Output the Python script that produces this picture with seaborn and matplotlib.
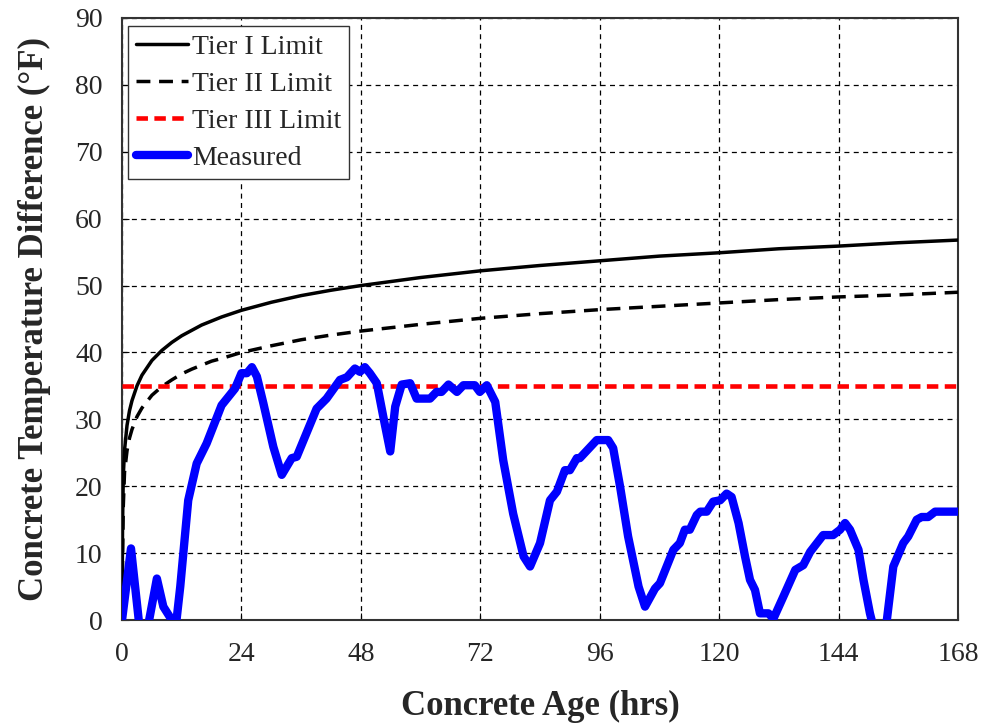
# Data Handling & Computation
import numpy as np
import pandas as pd

# Visualization Libraries
import matplotlib
matplotlib.use("Agg")
import matplotlib.pyplot as plt
import seaborn as sns

# ==============================
# Data
# ==============================

limit_hours = [0, 0.1, 0.25, 0.5, 1, 1.5, 2, 3, 4, 6, 8, 10, 12, 14, 16, 18, 20, 24, 30, 36,
               42, 48, 60, 72, 84, 96, 108, 120, 132, 144, 156, 168]
tier1_limit = [0, 14, 21.5, 25.4, 29.1, 31.3, 32.8, 35.0, 36.6, 38.8, 40.3, 41.5, 42.5, 43.3,
               44.1, 44.7, 45.3, 46.3, 47.5, 48.5, 49.3, 50.0, 51.2, 52.2, 53.0, 53.7, 54.4,
               54.9, 55.5, 55.9, 56.4, 56.8]
tier2_limit = [0, 9, 17, 22.1, 25.3, 27.2, 28.5, 30.4, 31.7, 33.6, 34.9, 35.9, 36.8, 37.5,
               38.1, 38.7, 39.1, 40.0, 41.0, 41.9, 42.6, 43.2, 44.2, 45.1, 45.8, 46.4, 46.9,
               47.4, 47.9, 48.3, 48.6, 49.0]

tier3_hours = [0, 168]
tier3_limit = [35, 35]

measured_hours = [
    0, 1.8, 3.5, 4.3, 5.2, 7.0, 8.3, 10.0, 10.8, 11.7, 13.3, 15.0, 17.0, 20.0, 22.7,
    24.0, 25.1, 26.1, 27.1, 28.4, 30.4, 32.1, 34.1, 35.1, 39.1, 41.1, 43.8, 45.2,
    46.8, 47.8, 48.8, 49.8, 51.2, 52.5, 53.9, 54.9, 56.2, 57.9, 59.2, 61.9, 63.2,
    64.2, 65.6, 67.3, 68.6, 70.9, 71.9, 73.3, 75.0, 76.6, 78.6, 80.7, 82.0, 84.0,
    86.0, 87.4, 89.0, 90.0, 91.4, 92.0, 95.4, 97.7, 98.7, 100.1, 101.7, 103.8,
    105.1, 107.1, 108.1, 110.8, 112.1, 113.1, 114.1, 115.5, 116.2, 117.5, 118.8,
    120.2, 121.5, 122.5, 123.9, 125.2, 126.2, 127.2, 128.2, 129.9, 130.9, 132.9,
    135.3, 136.9, 138.3, 140.9, 142.9, 144.3, 145.3, 146.3, 148.0, 149.0, 150.3,
    152.0, 153.7, 155.0, 157.0, 158.0, 159.7, 160.7, 162.0, 163.4, 168.0,
]
measured_diff = [
    0, 10.7, -1, -3, -1, 6.2, 2.0, 0, -1, 5.0, 17.9, 23.4, 26.4, 32.1, 34.6,
    36.9, 36.9, 37.8, 36.4, 32.4, 25.9, 21.7, 24.2, 24.4, 31.6, 33.1, 35.9, 36.3,
    37.6, 37.1, 37.8, 36.9, 35.4, 30.4, 25.2, 31.9, 35.2, 35.4, 33.1, 33.1, 34.1,
    34.1, 35.2, 34.1, 35.1, 35.1, 34.1, 35.1, 32.6, 23.9, 15.9, 9.5, 8.0, 11.5,
    17.9, 19.2, 22.4, 22.4, 24.2, 24.2, 26.9, 26.9, 25.7, 19.9, 12.5, 5.0,
    2.0, 4.7, 5.5, 10.5, 11.5, 13.5, 13.5, 15.7, 16.2, 16.2, 17.7,
    17.9, 18.9, 18.4, 14.5, 9.5, 6.0, 4.5, 1.0, 1.0, 0.2, 3.5,
    7.5, 8.2, 10.2, 12.7, 12.7, 13.5, 14.5, 13.5, 10.5, 6.0, 1.0,
    -4, 0, 8.0, 11.5, 12.5, 15.0, 15.4, 15.4, 16.2, 16.2,
]

# ==============================
# Plot Styling & Customization
# ==============================

sns.set_style("ticks")
plt.rcParams["font.family"] = ["Liberation Serif", "DejaVu Serif"]

fig = plt.figure(figsize=(9.85, 7.25), dpi=100)
ax = fig.add_axes([0.1239, 0.1448, 0.8487, 0.8304])

limits = pd.DataFrame({"hours": limit_hours, "tier1": tier1_limit, "tier2": tier2_limit})
tier3 = pd.DataFrame({"hours": tier3_hours, "tier3": tier3_limit})
measured = pd.DataFrame({"hours": measured_hours, "diff": measured_diff})

sns.lineplot(data=limits, x="hours", y="tier1", ax=ax, color="black", lw=2.5,
             label="Tier I Limit", zorder=3)
sns.lineplot(data=limits, x="hours", y="tier2", ax=ax, color="black", lw=2.5,
             ls=(0, (4, 2.5)), label="Tier II Limit", zorder=3)
sns.lineplot(data=tier3, x="hours", y="tier3", ax=ax, color="red", lw=3.3,
             ls=(0, (2.5, 1.4)), label="Tier III Limit", zorder=3)
sns.lineplot(data=measured, x="hours", y="diff", ax=ax, color="blue", lw=6,
             label="Measured", zorder=4, solid_joinstyle="round", solid_capstyle="round")

ax.set_xlim(0, 168)
ax.set_ylim(0, 90)
ax.set_xticks(np.arange(0, 169, 24))
ax.set_yticks(np.arange(0, 91, 10))
ax.grid(True, color="black", ls=(0, (4, 3.5)), lw=0.9)
ax.tick_params(axis="both", direction="in", labelsize=20, length=5, color="black")
ax.tick_params(axis="y", pad=14)
ax.tick_params(axis="x", pad=16)

for spine in ax.spines.values():
    spine.set_visible(True)
    spine.set_color("#333333")
    spine.set_linewidth(1.5)

ax.set_xlabel("Concrete Age (hrs)", fontsize=25, fontweight="bold", labelpad=16)
ax.set_ylabel("Concrete Temperature Difference (°F)", fontsize=25, fontweight="bold",
              labelpad=17)

leg = ax.legend(loc="upper left", fontsize=20, frameon=True, fancybox=False,
                edgecolor="#333333", framealpha=1, handlelength=1.85,
                borderpad=0.3, labelspacing=0.42, handletextpad=0.15,
                borderaxespad=0, bbox_to_anchor=(0.007, 0.987))
leg.get_frame().set_linewidth(1.0)

fig.savefig("out.png", dpi=100)
